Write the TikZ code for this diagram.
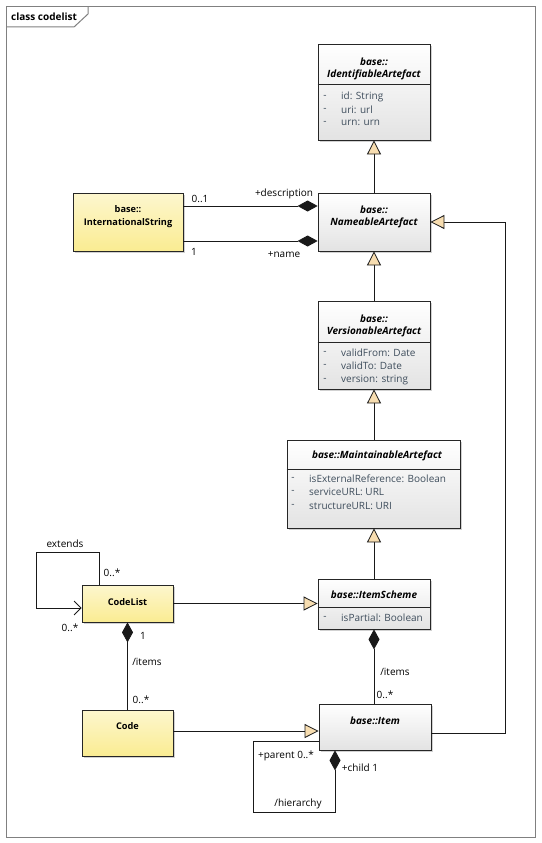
\documentclass[tikz,border=0pt]{standalone}
\usepackage{fontspec}
\setmainfont{Open Sans}
\usetikzlibrary{arrows.meta,shadows}
\definecolor{attrc}{HTML}{3E4D5C}
\definecolor{genfill}{HTML}{F7DDB0}
\definecolor{ylw}{HTML}{FAEC92}
\definecolor{frm}{HTML}{808080}
\tikzset{
  cls/.style={draw=black!85, line width=0.8pt, top color=white, bottom color=black!11,
    drop shadow={shadow xshift=1.6pt, shadow yshift=-1.6pt, opacity=0.3, fill=black!60},
    inner sep=0pt},
  ycls/.style={cls, top color=ylw!45, bottom color=ylw},
  ttl/.style={font=\fontsize{10}{11}\selectfont\bfseries\itshape, inner sep=0pt},
  yttl/.style={font=\fontsize{9.2}{10}\selectfont\bfseries, inner sep=0pt},
  attr/.style={font=\fontsize{10}{11}\selectfont, text=attrc, inner sep=0pt, anchor=west},
  dsh/.style={font=\fontsize{10}{11}\selectfont, text=attrc, inner sep=0pt},
  lbl/.style={font=\fontsize{10}{11}\selectfont, inner sep=0pt},
  divl/.style={draw=black!85, line width=0.8pt},
  conn/.style={draw=black!90, line width=0.8pt},
  genarr/.style={conn, -{Triangle[length=14pt,width=14pt,fill=genfill]}},
  comparr/.style={conn, {Diamond[length=20pt,width=11pt]}-},
  comparrend/.style={conn, -{Diamond[length=20pt,width=11pt]}},
  extarr/.style={conn, -{Straight Barb[length=7pt,width=14pt]}},
}
\begin{document}
\begin{tikzpicture}[x=1pt,y=-1pt]
\useasboundingbox (0,0) rectangle (541,843);
% frame
\draw[frm, line width=1pt] (6.5,6.5) rectangle (535,837);
\draw[frm, line width=1pt] (6.5,27) -- (74,27) -- (88,14) -- (88,6.5);
\node[font=\fontsize{10}{11}\selectfont\bfseries, anchor=west, inner sep=0pt] (frtitle) at (11,16.5) {class codelist};

% IdentifiableArtefact
\node[cls, minimum width=112pt, minimum height=96pt] (ida) at (374,92) {};
\node[ttl] (ida-t1) at (374,62) {base::};
\node[ttl] (ida-t2) at (374,75) {IdentifiableArtefact};
\draw[divl] (ida.west |- 0,84) -- (ida.east |- 0,84);
\node[dsh] (ida-d1) at (325,97) {-};
\node[dsh] (ida-d2) at (325,110) {-};
\node[dsh] (ida-d3) at (325,123) {-};
\node[attr] (ida-a1) at (341,97) {id: String};
\node[attr] (ida-a2) at (341,110) {uri: url};
\node[attr] (ida-a3) at (341,123) {urn: urn};

% NameableArtefact
\node[cls, minimum width=112pt, minimum height=58pt] (na) at (374,222) {};
\node[ttl] (na-t1) at (374,210) {base::};
\node[ttl] (na-t2) at (374,223) {NameableArtefact};

% InternationalString
\node[ycls, minimum width=110pt, minimum height=58pt] (ist) at (128,222) {};
\node[yttl] (ist-t1) at (128,209) {base::};
\node[yttl] (ist-t2) at (128,223) {InternationalString};

% VersionableArtefact
\node[cls, minimum width=112pt, minimum height=88pt] (va) at (374,345) {};
\node[ttl] (va-t1) at (374,319) {base::};
\node[ttl] (va-t2) at (374,332) {VersionableArtefact};
\draw[divl] (va.west |- 0,342) -- (va.east |- 0,342);
\node[dsh] (va-d1) at (325,353) {-};
\node[dsh] (va-d2) at (325,366) {-};
\node[dsh] (va-d3) at (325,380) {-};
\node[attr] (va-a1) at (341,353) {validFrom: Date};
\node[attr] (va-a2) at (341,366) {validTo: Date};
\node[attr] (va-a3) at (341,380) {version: string};

% MaintainableArtefact
\node[cls, minimum width=173pt, minimum height=88pt] (ma) at (373.5,484) {};
\node[ttl] (ma-t1) at (377,456) {base::MaintainableArtefact};
\draw[divl] (ma.west |- 0,469) -- (ma.east |- 0,469);
\node[dsh] (ma-d1) at (293,479) {-};
\node[dsh] (ma-d2) at (293,492) {-};
\node[dsh] (ma-d3) at (293,506) {-};
\node[attr] (ma-a1) at (309,479) {isExternalReference: Boolean};
\node[attr] (ma-a2) at (309,492) {serviceURL: URL};
\node[attr] (ma-a3) at (309,506) {structureURL: URI};

% ItemScheme
\node[cls, minimum width=112pt, minimum height=50pt] (is) at (374,604) {};
\node[ttl] (is-t1) at (374,595) {base::ItemScheme};
\draw[divl] (is.west |- 0,607) -- (is.east |- 0,607);
\node[dsh] (is-d1) at (325,618) {-};
\node[attr] (is-a1) at (341,618) {isPartial: Boolean};

% CodeList
\node[ycls, minimum width=91pt, minimum height=37pt] (cl) at (127.5,603.5) {};
\node[yttl] (cl-t) at (127.5,602) {CodeList};

% Code
\node[ycls, minimum width=91pt, minimum height=46pt] (cd) at (127.5,733) {};
\node[yttl] (cd-t) at (127.5,726) {Code};

% Item
\node[cls, minimum width=112pt, minimum height=46pt] (it) at (375,727) {};
\node[ttl] (it-t) at (375,721) {base::Item};

% generalizations
\draw[genarr] (na.north) -- (ida.south);
\draw[genarr] (va.north) -- (na.south);
\draw[genarr] (ma.north -| va.south) -- (va.south);
\draw[genarr] (is.north) -- (is.north |- ma.south);
\draw[genarr] (cl.east) -- (cl.east -| is.west);
\draw[genarr] ([yshift=2pt]cd.east) -- ([yshift=2pt]cd.east -| it.west);
\coordinate (rtline) at (505,733);
\draw[genarr] ([yshift=-6pt]it.east) -- (rtline) |- (na.east);

% compositions InternationalString - NameableArtefact
\draw[comparrend] ([yshift=16pt]ist.east) -- ([yshift=16pt]na.west);
\draw[comparrend] ([yshift=-19pt]ist.east) -- ([yshift=-19pt]na.west);
\node[lbl] (l-01) at (200,199) {0..1};
\node[lbl] (l-desc) at (284,194) {+description};
\node[lbl] (l-1a) at (194,252) {1};
\node[lbl] (l-name) at (284,255) {+name};

% ItemScheme - Item
\draw[comparr] (is.south) -- (is.south |- it.north);
\node[lbl] (l-items1) at (395,672) {/items};
\node[lbl] (l-0s1) at (385,695) {0..*};

% CodeList - Code
\draw[comparr] (cl.south) -- (cd.north);
\node[lbl] (l-1b) at (143,636) {1};
\node[lbl] (l-items2) at (147,662) {/items};
\node[lbl] (l-0s2) at (141,700) {0..*};

% CodeList extends loop
\coordinate (clloop) at (36,552);
\draw[extarr] ([xshift=-28.5pt]cl.north) |- (clloop) |- ([yshift=-4.5pt]cl.west);
\node[lbl] (l-ext) at (65,544) {extends};
\node[lbl] (l-0s3) at (112,573) {0..*};
\node[lbl] (l-0s4) at (70,628) {0..*};

% Item hierarchy loop
\coordinate (itloop) at (253,812);
\draw[comparr] ([xshift=-40pt]it.south) |- (itloop) |- ([yshift=-14pt]it.west);
\node[lbl] (l-parent) at (286,756) {+parent 0..*};
\node[lbl] (l-child) at (360,768) {+child 1};
\node[lbl] (l-hier) at (298,804) {/hierarchy};
\end{tikzpicture}
\end{document}
